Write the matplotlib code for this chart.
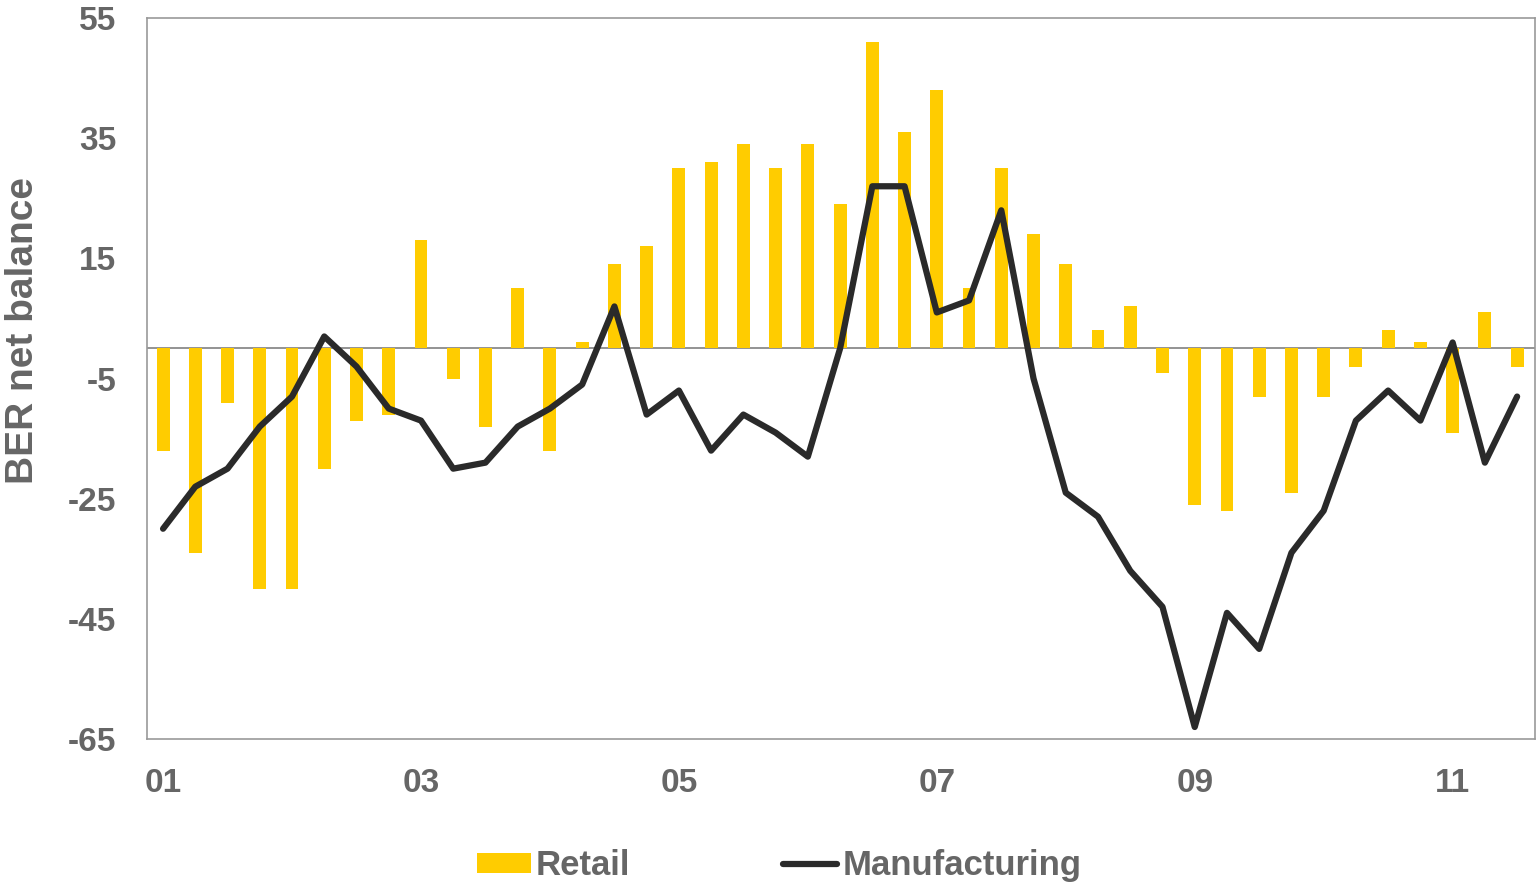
import matplotlib.pyplot as plt
import numpy as np

# quarterly, 2001Q1 .. 2011Q3
retail = [-17, -34, -9, -40, -40, -20, -12, -11,
          18, -5, -13, 10, -17, 1, 14, 17,
          30, 31, 34, 30, 34, 24, 51, 36,
          43, 10, 30, 19, 14, 3, 7, -4,
          -26, -27, -8, -24, -8, -3, 3, 1,
          -14, 6, -3]
manufacturing = [-30, -23, -20, -13, -8, 2, -3, -10,
                 -12, -20, -19, -13, -10, -6, 7, -11,
                 -7, -17, -11, -14, -18, 0, 27, 27,
                 6, 8, 23, -5, -24, -28, -37, -43,
                 -63, -44, -50, -34, -27, -12, -7, -12,
                 1, -19, -8]
tick_labels = ['01', '03', '05', '07', '09', '11']

plt.rcParams['font.family'] = ['Liberation Sans', 'DejaVu Sans']
plt.rcParams['font.weight'] = 'bold'
plt.rcParams['axes.labelweight'] = 'bold'
plt.rcParams['axes.unicode_minus'] = False
grey = '#666666'

x = np.arange(len(retail))

fig = plt.figure(figsize=(15.37, 8.84), dpi=100)
ax = fig.add_axes([0.0956, 0.164, 0.903, 0.8156])

bars = ax.bar(x, retail, width=0.4, color='#FFCC00', label='Retail', zorder=2)
ax.axhline(0, color='#808080', linewidth=1.2, zorder=1)
line, = ax.plot(x, manufacturing, color='#2a2a2a', linewidth=4.5,
                solid_joinstyle='round', solid_capstyle='round',
                label='Manufacturing', zorder=3)

ax.set_xlim(-0.5, 42.55)
ax.set_ylim(-65, 55)
ax.set_yticks(np.arange(-65, 56, 20))
ax.set_xticks(np.arange(0, 41, 8))
ax.set_xticklabels(tick_labels)
ax.tick_params(length=0, labelsize=24, labelcolor=grey)
ax.tick_params(axis='y', pad=22)
ax.tick_params(axis='x', pad=21)
for s in ax.spines.values():
    s.set_color('#999999')
    s.set_linewidth(1.2)

ax.set_ylabel('BER net balance', fontsize=28, color=grey, fontweight='bold')
ax.yaxis.set_label_coords(-0.076, 0.566)

fig.legend([bars, line], ['Retail', 'Manufacturing'],
           loc='center', bbox_to_anchor=(0.507, 0.021), ncol=2, frameon=False,
           fontsize=25, labelcolor=grey, handlelength=1.55, handletextpad=0.15,
           columnspacing=4.4, handleheight=0.5)

fig.savefig('out.png', dpi=100)
